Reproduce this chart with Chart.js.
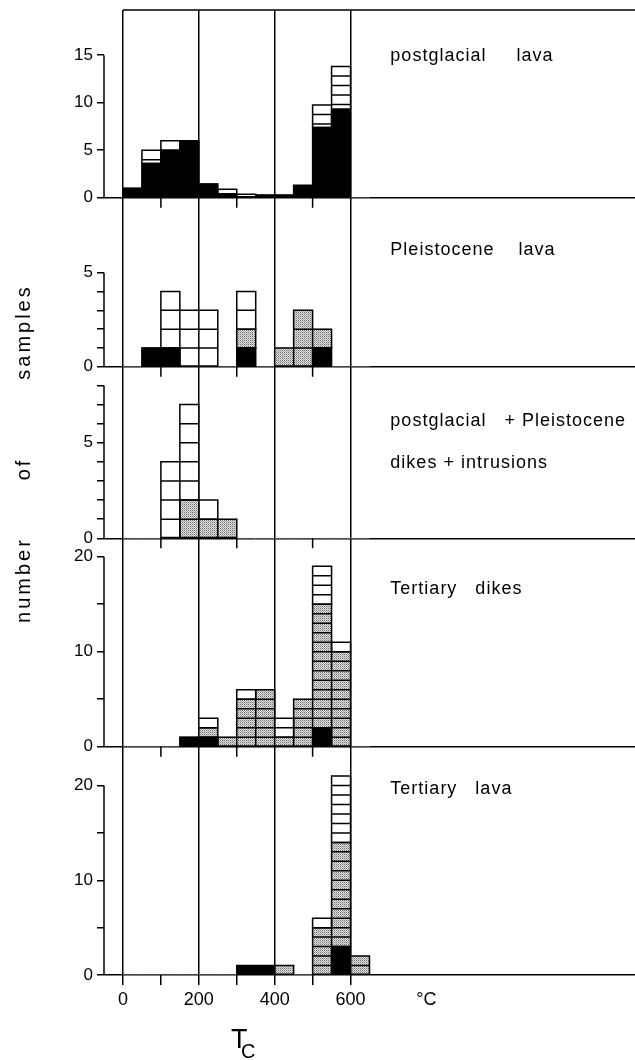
<!DOCTYPE html>
<html>
<head>
<meta charset="utf-8">
<script src="https://cdn.jsdelivr.net/npm/chart.js@4.4.1/dist/chart.umd.min.js"></script>
<style>
  html, body { margin: 0; padding: 0; background: #fff; }
  #wrap { width: 635px; height: 1060px; }
</style>
</head>
<body>
<div id="wrap"><canvas id="c" width="635" height="1060"></canvas></div>
<script>
// Curie temperatures T_C, counted in 50 °C classes (class centres)
const binCentres = [25, 75, 125, 175, 225, 275, 325, 375, 425, 475, 525, 575, 625];

// postglacial lava
const pgBlack = [1, 3.6, 5, 6, 1.45, 0.4, 0.1, 0.28, 0.28, 1.3, 7.4, 9.3, 0];
const pgOpen  = [0, 1.4, 1, 0, 0, 0.5, 0.27, 0, 0, 0, 2.35, 4.5, 0];
// Pleistocene lava
const plBlack  = [0, 1, 1, 0, 0, 0, 1, 0, 0, 0, 1, 0, 0];
const plDotted = [0, 0, 0, 0, 0, 0, 1, 0, 1, 3, 1, 0, 0];
const plOpen   = [0, 0, 3, 3, 3, 0, 2, 0, 0, 0, 0, 0, 0];
// postglacial + Pleistocene dikes + intrusions
const diDotted = [0, 0, 0, 2, 1, 1, 0, 0, 0, 0, 0, 0, 0];
const diOpen   = [0, 0, 4, 5, 1, 0, 0, 0, 0, 0, 0, 0, 0];
// Tertiary dikes
const tdBlack  = [0, 0, 0, 1, 1, 0, 0, 0, 0, 0, 2, 0, 0];
const tdDotted = [0, 0, 0, 0, 1, 1, 5, 6, 1, 5, 13, 10, 0];
const tdOpen   = [0, 0, 0, 0, 1, 0, 1, 0, 2, 0, 4, 1, 0];
// Tertiary lava
const tlBlack  = [0, 0, 0, 0, 0, 0, 1, 1, 0, 0, 0, 3, 0];
const tlDotted = [0, 0, 0, 0, 0, 0, 0, 0, 1, 0, 5, 11, 2];
const tlOpen   = [0, 0, 0, 0, 0, 0, 0, 0, 0, 0, 1, 7, 0];

// temperature axis
const xTickValues = [0, 100, 200, 300, 400, 500, 600, 800];
const xTickLabels = ['0', '', '200', '', '400', '', '600', '°C'];
const xGridValues = [0, 200, 400, 600];
const xMinorTicks = [100, 300, 500];

// count axes
const pgTicks = [0, 5, 10, 15];              const pgTickLabels = ['0', '5', '10', '15'];
const plTicks = [0, 1, 2, 3, 4, 5];          const plTickLabels = ['0', '', '', '', '', '5'];
const diTicks = [0, 1, 2, 3, 4, 5, 6, 7, 8]; const diTickLabels = ['0', '', '', '', '', '5', '', '', ''];
const tdTicks = [0, 5, 10, 15, 20];          const tdTickLabels = ['0', '', '10', '', '20'];
const tlTicks = [0, 5, 10, 15, 20];          const tlTickLabels = ['0', '', '10', '', '20'];

// panel captions
const pgCaption = ['postglacial     lava'];
const plCaption = ['Pleistocene    lava'];
const diCaption = ['postglacial   + Pleistocene', 'dikes + intrusions'];
const tdCaption = ['Tertiary   dikes'];
const tlCaption = ['Tertiary   lava'];

const yTitleWords = ['number', 'of', 'samples'];

// ---- panel layout (top to bottom) ----
const panels = [
  { id: 'yPG', max: 19.76, weight: 187.7, ticks: pgTicks, labels: pgTickLabels, caption: pgCaption, capY: [14.4] },
  { id: 'yPL', max: 9.0,   weight: 169.0, ticks: plTicks, labels: plTickLabels, caption: plCaption, capY: [5.96] },
  { id: 'yDI', max: 8.98,  weight: 171.6, ticks: diTicks, labels: diTickLabels, caption: diCaption, capY: [5.88, 3.68] },
  { id: 'yTD', max: 21.93, weight: 208.4, ticks: tdTicks, labels: tdTickLabels, caption: tdCaption, capY: [16.1] },
  { id: 'yTL', max: 24.1,  weight: 228.3, ticks: tlTicks, labels: tlTickLabels, caption: tlCaption, capY: [19.1] }
];

const canvas = document.getElementById('c');
const ctx2d = canvas.getContext('2d');

function dottedFill() {
  const c = document.createElement('canvas');
  c.width = 2; c.height = 2;
  const g = c.getContext('2d');
  g.fillStyle = '#e2e2e2'; g.fillRect(0, 0, 2, 2);
  g.fillStyle = '#707070'; g.fillRect(0, 0, 1, 1);
  g.fillStyle = '#a8a8a8'; g.fillRect(1, 1, 1, 1);
  return ctx2d.createPattern(c, 'repeat');
}

const fills = { black: '#000', dotted: dottedFill(), open: '#fff' };

function segment(values, axisId, kind) {
  return {
    data: binCentres.map((x, i) => ({ x: x, y: values[i] })),
    yAxisID: axisId,
    kind: kind,
    backgroundColor: fills[kind],
    borderWidth: 0,
    barPercentage: 1,
    categoryPercentage: 1
  };
}

const datasets = [
  segment(pgBlack, 'yPG', 'black'), segment(pgOpen, 'yPG', 'open'),
  segment(plBlack, 'yPL', 'black'), segment(plDotted, 'yPL', 'dotted'), segment(plOpen, 'yPL', 'open'),
  segment(diDotted, 'yDI', 'dotted'), segment(diOpen, 'yDI', 'open'),
  segment(tdBlack, 'yTD', 'black'), segment(tdDotted, 'yTD', 'dotted'), segment(tdOpen, 'yTD', 'open'),
  segment(tlBlack, 'yTL', 'black'), segment(tlDotted, 'yTL', 'dotted'), segment(tlOpen, 'yTL', 'open')
];

const tickFont = { family: 'Liberation Sans, Arial, sans-serif', size: 17 };

const scales = {
  x: {
    type: 'linear', position: 'bottom', min: -50, max: 1350, stacked: true, offset: false,
    afterBuildTicks: s => { s.ticks = xTickValues.map(v => ({ value: v })); },
    afterFit: s => { s.height = 85; s.paddingLeft = 0; s.paddingRight = 0; },
    border: { display: false },
    grid: {
      offset: false,
      color: c => (c.tick && xGridValues.includes(c.tick.value)) ? '#000' : 'rgba(0,0,0,0)',
      tickColor: c => (c.tick && c.tick.value <= 600) ? '#000' : 'rgba(0,0,0,0)',
      lineWidth: 1.5, tickWidth: 1.5, tickLength: 10, drawOnChartArea: true
    },
    ticks: {
      callback: (v, i) => xTickLabels[i],
      autoSkip: false, maxRotation: 0, minRotation: 0, color: '#000', padding: 4,
      font: { family: 'Liberation Sans, Arial, sans-serif', size: 18 }
    }
  }
};

// the last scale defined sits on top of the left-hand stack
panels.slice().reverse().forEach(p => {
  scales[p.id] = {
    type: 'linear', position: 'left', stack: 'counts', stackWeight: p.weight,
    stacked: true, min: 0, max: p.max,
    afterBuildTicks: s => { s.ticks = p.ticks.map(v => ({ value: v })); },
    afterFit: s => { s.width = 50; s.paddingTop = 0; s.paddingBottom = 0; },
    border: { display: false },
    grid: {
      color: c => (c.tick && c.tick.value === 0) ? '#000' : 'rgba(0,0,0,0)',
      tickColor: '#000', lineWidth: 1.5, tickWidth: 1.5, tickLength: 7, drawOnChartArea: true
    },
    ticks: {
      callback: (v, i) => p.labels[i],
      autoSkip: false, color: '#000', padding: 4, font: tickFont
    }
  };
});

function hline(ctx, x1, x2, y) { ctx.moveTo(x1, y); ctx.lineTo(x2, y); }
function vline(ctx, x, y1, y2) { ctx.moveTo(x, y1); ctx.lineTo(x, y2); }

const decorations = {
  id: 'decorations',
  afterDatasetsDraw(chart) {
    const ctx = chart.ctx;
    ctx.save();
    ctx.strokeStyle = '#000';
    ctx.lineWidth = 1.5;
    chart.data.datasets.forEach((ds, di) => {
      const ys = chart.scales[ds.yAxisID];
      const unit = ys.getPixelForValue(0) - ys.getPixelForValue(1);
      const meta = chart.getDatasetMeta(di);
      ctx.beginPath();
      meta.data.forEach((bar, i) => {
        if (!ds.data[i].y) return;
        const p = bar.getProps(['x', 'y', 'base', 'width'], true);
        const top = Math.min(p.y, p.base), bottom = Math.max(p.y, p.base);
        const left = p.x - p.width / 2, right = p.x + p.width / 2;
        // outline of the column segment
        ctx.rect(left, top, right - left, bottom - top);
        // one box per sample in open and dotted segments, counted down from the top
        if (ds.kind !== 'black') {
          for (let py = top + unit; py < bottom - 2; py += unit) hline(ctx, left, right, py);
        }
      });
      ctx.stroke();
    });
    ctx.restore();
  },
  afterDraw(chart) {
    const ctx = chart.ctx;
    const xs = chart.scales.x;
    const area = chart.chartArea;
    ctx.save();
    ctx.strokeStyle = '#000';
    ctx.lineWidth = 1.5;
    ctx.beginPath();
    // top frame
    hline(ctx, xs.getPixelForValue(0), area.right, area.top);
    panels.forEach((p, k) => {
      const ys = chart.scales[p.id];
      const y0 = ys.getPixelForValue(0);
      // count axis only as far as its highest tick
      vline(ctx, ys.right, y0, ys.getPixelForValue(p.ticks[p.ticks.length - 1]));
      // short temperature ticks under each upper panel
      if (k < panels.length - 1) {
        xMinorTicks.forEach(v => vline(ctx, xs.getPixelForValue(v), y0, y0 + 10));
      }
    });
    ctx.stroke();

    // captions
    ctx.fillStyle = '#000';
    ctx.font = '18px "Liberation Sans", Arial, sans-serif';
    ctx.letterSpacing = '1px';
    ctx.textAlign = 'left';
    ctx.textBaseline = 'alphabetic';
    const capX = xs.getPixelForValue(705);
    panels.forEach(p => {
      const ys = chart.scales[p.id];
      p.caption.forEach((line, j) => ctx.fillText(line, capX, ys.getPixelForValue(p.capY[j])));
    });

    // vertical axis title
    ctx.save();
    ctx.translate(29.5, 0);
    ctx.rotate(-Math.PI / 2);
    ctx.font = '20px "Liberation Sans", Arial, sans-serif';
    ctx.letterSpacing = '3px';
    ctx.textAlign = 'center';
    const wordCentres = [-580, -469, -332];
    yTitleWords.forEach((w, i) => ctx.fillText(w, wordCentres[i], 0));
    ctx.restore();

    // T with subscript C
    ctx.letterSpacing = '0px';
    ctx.textAlign = 'left';
    ctx.font = '27px "Liberation Sans", Arial, sans-serif';
    ctx.fillText('T', 231, 1048);
    ctx.font = '20px "Liberation Sans", Arial, sans-serif';
    ctx.fillText('C', 241, 1058);
    ctx.restore();
  }
};

new Chart(canvas, {
  type: 'bar',
  data: { datasets: datasets },
  options: {
    responsive: false,
    animation: false,
    devicePixelRatio: 1,
    layout: { padding: { left: 54, top: 10, right: 0, bottom: 0 } },
    plugins: { legend: { display: false }, tooltip: { enabled: false }, title: { display: false } },
    scales: scales
  },
  plugins: [decorations]
});
</script>
</body>
</html>
